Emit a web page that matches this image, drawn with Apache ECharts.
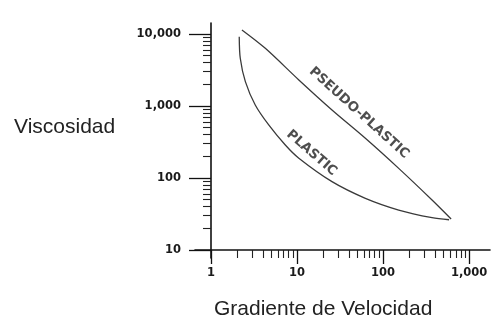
<!DOCTYPE html>
<html>
<head>
<meta charset="utf-8">
<script src="https://cdn.jsdelivr.net/npm/echarts@6/dist/echarts.min.js"></script>
<style>html,body{margin:0;padding:0;background:#fff;}#c{width:495px;height:325px;}</style>
</head>
<body>
<div id="c"></div>
<script>
// Shear rate (x) and viscosity (y)
const pseudoX = [2.29, 4.28, 10.5, 25.5, 62.3, 152, 371, 618];
const pseudoY = [11370, 6320, 2300, 880, 356, 136, 49.5, 27];
const plasticX = [2.13, 2.19, 2.51, 3.27, 4.69, 7.31, 10.5, 25.5, 62.3, 152, 371, 585];
const plasticY = [9180, 4600, 2180, 1032, 545, 287, 188, 88.9, 52.2, 35.9, 28.1, 26.3];

// Curve annotations (text, anchor x, anchor y)
const annoText = ['PSEUDO-PLASTIC', 'PLASTIC'];
const annoX = [52.6, 14.8];
const annoY = [800, 222];

// Axis ticks
const xMajor = [1, 10, 100, 1000];
const xMinor = [2,3,4,5,6,7,8,9,20,30,40,50,60,70,80,90,200,300,400,500,600,700,800,900];
const yMajor = [10, 100, 1000, 10000];
const yMinor = [20,30,40,50,60,70,80,90,200,300,400,500,600,700,800,900,2000,3000,4000,5000,6000,7000,8000,9000];

const xName = 'Gradiente de Velocidad';
const yName = 'Viscosidad';

const X_MIN = 0.652, X_MAX = 1750, Y_MIN = 7.74, Y_MAX = 14200;
const fmt = v => Number(v).toLocaleString('en-US');
const lab = { color: '#1a1a1a', fontFamily: 'DejaVu Sans', fontWeight: 'bold', fontSize: 11.5 };

const chart = echarts.init(document.getElementById('c'), null, { renderer: 'canvas' });
chart.setOption({
  animation: false,
  backgroundColor: '#fff',
  title: [
    { text: yName, left: 14, top: 117, padding: 0,
      textStyle: { fontFamily: 'Liberation Sans', fontWeight: 'normal', fontSize: 21, color: '#222' } },
    { text: xName, left: 214, top: 299, padding: 0,
      textStyle: { fontFamily: 'Liberation Sans', fontWeight: 'normal', fontSize: 21, color: '#222' } }
  ],
  grid: { left: 195, top: 23, width: 295, height: 235, containLabel: false },
  xAxis: [
    { type: 'log', min: X_MIN, max: X_MAX, position: 'bottom', offset: -8,
      axisLine: { show: true, lineStyle: { color: '#111', width: 1.6 } },
      axisTick: { show: true, length: 14, customValues: xMajor, lineStyle: { color: '#111', width: 1.3 } },
      axisLabel: { show: true, margin: 17, customValues: xMajor, formatter: fmt, ...lab },
      splitLine: { show: false }, minorTick: { show: false } },
    { type: 'log', min: X_MIN, max: X_MAX, position: 'bottom', offset: -8,
      axisLine: { show: false },
      axisTick: { show: true, length: 8, customValues: xMinor, lineStyle: { color: '#222', width: 1.1 } },
      axisLabel: { show: false },
      splitLine: { show: false } }
  ],
  yAxis: [
    { type: 'log', min: Y_MIN, max: Y_MAX, position: 'left', offset: -16,
      axisLine: { show: true, lineStyle: { color: '#111', width: 1.6 } },
      axisTick: { show: true, length: 22, customValues: yMajor, lineStyle: { color: '#111', width: 1.3 } },
      axisLabel: { show: true, margin: 30, customValues: yMajor, formatter: fmt, ...lab },
      splitLine: { show: false }, minorTick: { show: false } },
    { type: 'log', min: Y_MIN, max: Y_MAX, position: 'left', offset: -16,
      axisLine: { show: false },
      axisTick: { show: true, length: 8, customValues: yMinor, lineStyle: { color: '#222', width: 1.1 } },
      axisLabel: { show: false },
      splitLine: { show: false } }
  ],
  series: [
    { name: 'PSEUDO-PLASTIC', type: 'line', xAxisIndex: 0, yAxisIndex: 0,
      data: pseudoX.map((x, i) => [x, pseudoY[i]]),
      smooth: 0.3, showSymbol: false, symbol: 'none',
      lineStyle: { color: '#3a3a3a', width: 1.3 } },
    { name: 'PLASTIC', type: 'line', xAxisIndex: 0, yAxisIndex: 0,
      data: plasticX.map((x, i) => [x, plasticY[i]]),
      smooth: 0.3, showSymbol: false, symbol: 'none',
      lineStyle: { color: '#3a3a3a', width: 1.3 } },
    { type: 'scatter', xAxisIndex: 0, yAxisIndex: 0, symbolSize: 0, silent: true,
      data: annoText.map((t, i) => ({ value: [annoX[i], annoY[i]], name: t,
        label: { rotate: i === 0 ? -42 : -41 } })),
      label: { show: true, position: 'inside', formatter: p => p.name,
        color: '#222', fontFamily: 'DejaVu Sans', fontWeight: 'bold', fontSize: 13.3 } }
  ]
});
</script>
</body>
</html>
